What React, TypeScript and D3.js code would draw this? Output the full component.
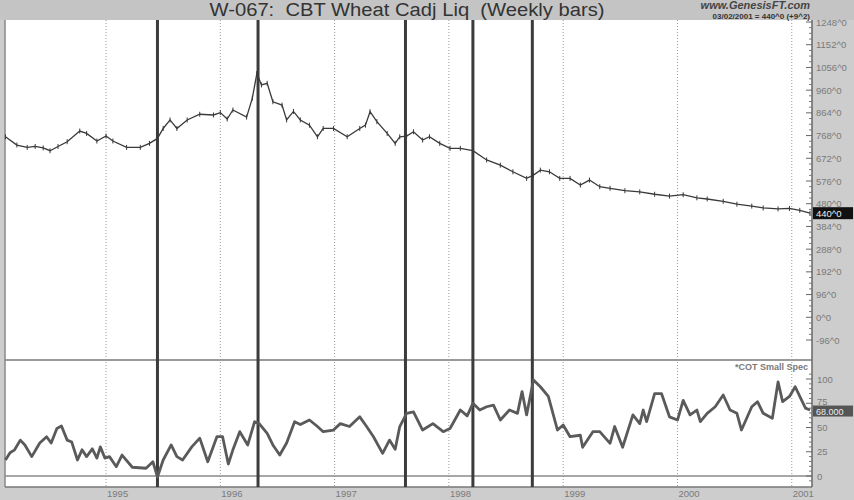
import React from "react";
import * as d3 from "d3";

// Weekly wheat price (decimal year, price in cents)
const priceYears = [
  1994.12, 1994.22, 1994.31, 1994.38, 1994.45, 1994.51, 1994.58, 1994.66, 1994.77, 1994.83,
  1994.92, 1995.0, 1995.06, 1995.18, 1995.3, 1995.38, 1995.45, 1995.5, 1995.56, 1995.62,
  1995.71, 1995.82, 1995.94, 1996.0, 1996.06, 1996.11, 1996.23, 1996.28, 1996.32, 1996.36,
  1996.41, 1996.46, 1996.54, 1996.58, 1996.64, 1996.7, 1996.78, 1996.85, 1996.9, 1996.99,
  1997.11, 1997.22, 1997.27, 1997.31, 1997.37, 1997.46, 1997.53, 1997.57, 1997.63, 1997.69,
  1997.77, 1997.83, 1997.92, 1998.01, 1998.1, 1998.21, 1998.33, 1998.45, 1998.56, 1998.68,
  1998.74, 1998.8, 1998.88, 1998.97, 1999.06, 1999.15, 1999.23, 1999.32, 1999.41, 1999.54,
  1999.67, 1999.8, 1999.93, 2000.05, 2000.17, 2000.26, 2000.4, 2000.52, 2000.65, 2000.75,
  2000.88, 2000.98, 2001.07, 2001.16,
];
const priceValues = [
  763, 728, 718, 722, 716, 704, 722, 742, 787, 777,
  745, 766, 745, 718, 718, 735, 756, 798, 834, 798,
  834, 858, 855, 865, 838, 876, 846, 926, 1031, 982,
  989, 911, 897, 834, 870, 834, 812, 763, 798, 798,
  763, 798, 812, 869, 827, 777, 735, 763, 766, 784,
  749, 763, 735, 714, 714, 704, 665, 643, 615, 587,
  601, 622, 615, 587, 587, 559, 580, 552, 545, 535,
  530, 520, 512, 518, 505, 500, 490, 478, 470, 462,
  458, 460, 452, 440,
];

// COT small speculators index
const cotYears = [
  1994.12, 1994.16, 1994.2, 1994.25, 1994.29, 1994.35, 1994.42, 1994.48, 1994.52, 1994.57,
  1994.61, 1994.66, 1994.7, 1994.75, 1994.79, 1994.83, 1994.88, 1994.92, 1994.95, 1994.99,
  1995.03, 1995.09, 1995.14, 1995.23, 1995.35, 1995.41, 1995.45, 1995.5, 1995.57, 1995.62,
  1995.67, 1995.75, 1995.82, 1995.89, 1995.97, 1996.02, 1996.07, 1996.11, 1996.17, 1996.24,
  1996.3, 1996.34, 1996.41, 1996.46, 1996.52, 1996.58, 1996.65, 1996.7, 1996.78, 1996.85,
  1996.9, 1996.99, 1997.05, 1997.13, 1997.22, 1997.28, 1997.34, 1997.42, 1997.48, 1997.53,
  1997.57, 1997.63, 1997.69, 1997.77, 1997.86, 1997.95, 1998.01, 1998.1, 1998.16, 1998.21,
  1998.27, 1998.33, 1998.39, 1998.45, 1998.53, 1998.6, 1998.64, 1998.68, 1998.74, 1998.8,
  1998.87, 1998.95, 1999.0, 1999.06, 1999.15, 1999.17, 1999.26, 1999.32, 1999.41, 1999.45,
  1999.52, 1999.61, 1999.67, 1999.7, 1999.73, 1999.8, 1999.86, 1999.93, 2000.0, 2000.05,
  2000.11, 2000.17, 2000.2, 2000.26, 2000.33, 2000.4, 2000.46, 2000.52, 2000.56, 2000.65,
  2000.7, 2000.75, 2000.83, 2000.88, 2000.92, 2000.98, 2001.03, 2001.07, 2001.12, 2001.16,
];
const cotValues = [
  16.5, 24, 27, 37, 32, 20, 34, 40.5, 34, 49,
  51.5, 37, 35, 16.5, 27, 20, 28, 18.5, 30, 18.5,
  20, 9.6, 21.6, 9, 8, 14.7, -1, 16.5, 32, 20,
  16.5, 30, 39, 14.7, 40.5, 40.5, 12.4, 27, 45.7, 32,
  56, 54, 44, 32, 21.6, 34, 56, 53, 57.7, 51,
  45.7, 47.4, 54, 51, 61, 51, 40.5, 23.4, 37, 27.5,
  51, 64.6, 66, 47.4, 54, 45.7, 49, 68, 62, 75,
  68, 71.4, 73, 57.7, 68, 64.6, 87, 63, 99, 92,
  82, 47.4, 52.6, 40.5, 42, 29.6, 45.7, 45.7, 33.7, 51,
  29.6, 63, 54, 68, 56, 85, 85, 61, 57.7, 78,
  63, 68, 56, 64.6, 71.4, 83.5, 68, 64.6, 47.4, 71.4,
  76.6, 64.6, 59.5, 97, 76.6, 82, 92, 82, 70, 68,
];

// Event markers (thick vertical lines)
const eventYears = [1995.45, 1996.33, 1997.62, 1998.21, 1998.73];
const yearTicks = [1995, 1996, 1997, 1998, 1999, 2000, 2001];
const priceTicks = d3.range(-96, 1249, 96);
const cotTicks = [0, 25, 50, 75, 100];

const W = 854;
const H = 500;
const plotLeft = 5;
const plotRight = 812;
const plotTop = 20;
const splitY = 360;
const plotBottom = 487;

const axisColor = "#7a7a7a";
const font = "Arial, 'Liberation Sans', sans-serif";

export default function App() {
  const x = d3.scaleLinear().domain([1994.116, 2001.177]).range([plotLeft, plotRight]);
  const yPrice = d3.scaleLinear().domain([-96, 1248]).range([340, 22]);
  const yCot = d3.scaleLinear().domain([0, 100]).range([476, 379]);

  const priceLine = d3
    .line<number>()
    .x((_, i) => x(priceYears[i]))
    .y((d) => yPrice(d));
  const cotLine = d3
    .line<number>()
    .x((_, i) => x(cotYears[i]))
    .y((d) => yCot(d));

  const minorPrice = d3.range(-96, 1249, 24).filter((v) => v % 96 !== 0);
  const minorCot = d3.range(-5, 106, 5).filter((v) => v % 25 !== 0);

  const lastPrice = priceValues[priceValues.length - 1];
  const lastCot = cotValues[cotValues.length - 1];

  return (
    <svg
      width={W}
      height={H}
      style={{ position: "absolute", left: 0, top: 0, fontFamily: font }}
    >
      {/* frame backgrounds */}
      <rect x={0} y={0} width={W} height={H} fill="#cdcdcd" />
      <rect x={0} y={0} width={W} height={plotTop} fill="#c4c4c4" />
      <rect
        x={plotLeft}
        y={plotTop}
        width={plotRight - plotLeft}
        height={plotBottom - plotTop}
        fill="#ffffff"
      />

      {/* title */}
      <text
        x={407}
        y={16}
        textAnchor="middle"
        fontSize={18}
        fill="#333"
        textLength={395}
        lengthAdjust="spacingAndGlyphs"
        style={{ whiteSpace: "pre" }}
      >
        {"W-067:  CBT Wheat Cadj Liq  (Weekly bars)"}
      </text>
      <text x={810} y={9} textAnchor="end" fontSize={11} fontWeight="bold" fontStyle="italic" fill="#444">
        www.GenesisFT.com
      </text>
      <text x={810} y={19} textAnchor="end" fontSize={8} fontWeight="bold" fill="#333">
        {`03/02/2001 = ${lastPrice}^0 (+9^2)`}
      </text>

      {/* year gridlines */}
      {yearTicks.map((yr) => (
        <line
          key={yr}
          x1={x(yr)}
          x2={x(yr)}
          y1={plotTop}
          y2={plotBottom}
          stroke="#999"
          strokeDasharray="1,2"
        />
      ))}

      {/* panel separators */}
      <line x1={plotLeft} x2={plotRight} y1={splitY} y2={splitY} stroke="#9a9a9a" strokeWidth={2} />
      <line x1={plotLeft} x2={plotRight} y1={yCot(0)} y2={yCot(0)} stroke="#8a8a8a" strokeWidth={1.5} />
      <line x1={plotLeft} x2={plotRight} y1={plotBottom} y2={plotBottom} stroke="#777" strokeWidth={1.5} />
      <line x1={plotLeft} x2={plotLeft} y1={plotTop} y2={plotBottom} stroke="#888" strokeWidth={1.5} />

      {/* event lines */}
      {eventYears.map((yr) => (
        <line
          key={yr}
          x1={x(yr)}
          x2={x(yr)}
          y1={plotTop}
          y2={plotBottom}
          stroke="#3c3c3c"
          strokeWidth={3}
        />
      ))}

      {/* price series */}
      <path d={priceLine(priceValues) ?? ""} fill="none" stroke="#3a3a3a" strokeWidth={1.3} />
      {priceValues.map((v, i) => (
        <line
          key={i}
          x1={x(priceYears[i])}
          x2={x(priceYears[i])}
          y1={yPrice(v) - 2.5}
          y2={yPrice(v) + 2.5}
          stroke="#3a3a3a"
          strokeWidth={1}
        />
      ))}

      {/* COT series */}
      <path d={cotLine(cotValues) ?? ""} fill="none" stroke="#5a5a5a" strokeWidth={2.8} strokeLinejoin="round" />
      <text x={808} y={370} textAnchor="end" fontSize={9} fontWeight="bold" fill={axisColor}>
        *COT Small Spec
      </text>

      {/* right axis */}
      <line x1={plotRight} x2={plotRight} y1={plotTop} y2={plotBottom} stroke="#666" strokeWidth={1.5} />
      {priceTicks.map((v) => (
        <g key={v}>
          <line x1={plotRight - 6} x2={plotRight} y1={yPrice(v)} y2={yPrice(v)} stroke="#666" />
          <text x={plotRight + 4} y={yPrice(v) + 3.5} fontSize={9.5} fill={axisColor}>
            {`${v}^0`}
          </text>
        </g>
      ))}
      {minorPrice.map((v) => (
        <line key={v} x1={plotRight - 3} x2={plotRight} y1={yPrice(v)} y2={yPrice(v)} stroke="#777" />
      ))}
      {cotTicks.map((v) => (
        <g key={v}>
          <line x1={plotRight - 6} x2={plotRight} y1={yCot(v)} y2={yCot(v)} stroke="#666" />
          <text x={plotRight + 5} y={yCot(v) + (v === 75 ? 2 : 3.5)} fontSize={9.5} fill={axisColor}>
            {v}
          </text>
        </g>
      ))}
      {minorCot.map((v) => (
        <line key={v} x1={plotRight - 3} x2={plotRight} y1={yCot(v)} y2={yCot(v)} stroke="#777" />
      ))}

      {/* last value tags */}
      <rect x={plotRight + 1} y={yPrice(lastPrice) - 6} width={40} height={12} fill="#111" />
      <text x={plotRight + 4} y={yPrice(lastPrice) + 3.5} fontSize={9.5} fill="#eee">
        {`${lastPrice}^0`}
      </text>
      <rect x={plotRight + 1} y={yCot(lastCot) - 4.5} width={40} height={11} fill="#555" />
      <text x={plotRight + 4} y={yCot(lastCot) + 4.5} fontSize={9} fill="#eee">
        {lastCot.toFixed(3)}
      </text>

      {/* year labels */}
      {yearTicks.map((yr) => (
        <text key={yr} x={x(yr) + 1} y={497} fontSize={9.5} fill={axisColor}>
          {yr}
        </text>
      ))}
    </svg>
  );
}
